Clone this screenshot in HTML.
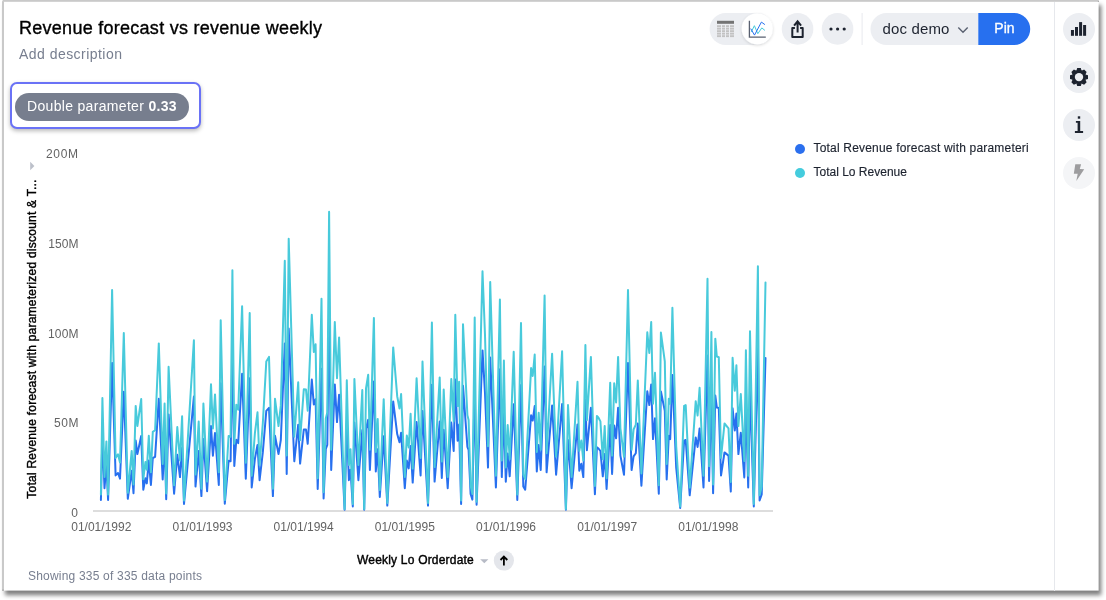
<!DOCTYPE html>
<html lang="en">
<head>
<meta charset="utf-8">
<title>Revenue forecast vs revenue weekly</title>
<style>
*{box-sizing:border-box;margin:0;padding:0}
html,body{width:1106px;height:600px;background:#fff;overflow:hidden}
body{font-family:"Liberation Sans",Arial,sans-serif;color:#1d232f;position:relative}
.card{position:absolute;left:0;top:0;width:1106px;height:600px;background:#fff}
.abs{position:absolute;white-space:nowrap}
#w{position:absolute;left:0;top:0;width:1106px;height:600px;will-change:transform}
.title{left:19px;top:17px;font-size:18px;line-height:22px;color:#000;letter-spacing:.27px;-webkit-text-stroke:.35px #000}
.desc{left:19px;top:45px;font-size:14px;line-height:18px;color:#777e8f;letter-spacing:.46px}
.circ{position:absolute;width:32px;height:32px;border-radius:16px;background:#eceef2}
.sideline{left:1054px;top:2px;width:1px;height:589px;background:#e6e8ec}
.hl{left:10px;top:82px;width:191px;height:47px;border:2px solid #6a72f6;border-radius:7px;box-shadow:0 2px 4px rgba(0,0,0,.28);background:#fff}
.chip{left:15px;top:93px;width:174px;height:28px;border-radius:14px;background:#777e8e;color:#fff;font-size:14px;line-height:26px;padding-left:12px;letter-spacing:.32px}
.chip b{font-weight:700}
.toggle{left:710px;top:13px;width:63px;height:32px;border-radius:16px;background:#eceef2}
.knob{left:741.6px;top:13.2px;width:31.4px;height:31.2px;border-radius:16px;background:#fff;box-shadow:0 1.5px 4px rgba(60,70,90,.26)}
.vdiv{left:861.5px;top:13px;width:1.5px;height:32px;background:#f0f1f4}
.docdemo{left:870.5px;top:13px;width:109px;letter-spacing:.15px;height:32px;font-size:15px;line-height:31px;padding-left:12px;color:#1d232f}
.pin{left:978.3px;top:13px;width:51.9px;height:32px;color:#fff;font-size:14px;line-height:31px;padding-left:16px;-webkit-text-stroke:.3px #fff}
.leg{font-size:12px;line-height:14px;color:#1d232f;left:813.5px;-webkit-text-stroke:.15px #1d232f}
.dot{position:absolute;width:10px;height:10px;border-radius:5px}
.ylab{font-size:12px;line-height:14px;color:#636363;width:42px;text-align:right;left:36px}
.xlab{font-size:12px;line-height:14px;color:#636363;width:70px;text-align:center;top:520px}
.ytitle{left:32px;top:339px;width:0;height:0}
.ytitle span{position:absolute;white-space:nowrap;font-size:12px;line-height:14px;color:#000;transform:translate(-50%,-50%) rotate(-90deg);transform-origin:50% 50%;-webkit-text-stroke:.4px #000;letter-spacing:.235px}
.xtitle{left:357px;top:553px;font-size:12px;line-height:14px;color:#000;-webkit-text-stroke:.4px #000;letter-spacing:.2px}
.foot{left:28px;top:569px;font-size:12px;line-height:14px;color:#777e8f;letter-spacing:.2px}
svg{position:absolute;left:0;top:0;overflow:visible}
</style>
</head>
<body>
<div id="w"><div class="card"></div>
<svg id="frame" width="1106" height="600" viewBox="0 0 1106 600">
<defs>
<filter id="sh" filterUnits="userSpaceOnUse" x="-20" y="-20" width="1150" height="640"><feGaussianBlur in="SourceAlpha" stdDeviation="2.35"/><feOffset dx="2.85" dy="4.5"/><feComponentTransfer><feFuncA type="linear" slope=".5"/></feComponentTransfer><feMerge><feMergeNode/><feMergeNode in="SourceGraphic"/></feMerge></filter>
<filter id="ks" filterUnits="userSpaceOnUse" x="730" y="0" width="60" height="60"><feGaussianBlur in="SourceAlpha" stdDeviation="1.6"/><feOffset dx="0" dy="1"/><feComponentTransfer><feFuncA type="linear" slope=".15"/></feComponentTransfer><feMerge><feMergeNode/><feMergeNode in="SourceGraphic"/></feMerge></filter>
</defs>
<rect x="2" y="0" width="1096.3" height="590.25" fill="#fff" filter="url(#sh)"/>
<rect x="2" y="1.2" width="2" height="589.3" fill="#c9c9c9"/>
<rect x="2.6" y="0" width="1096" height="1.8" fill="#c9c9c9"/>
<rect x="1097.9" y="0.8" width="1" height="1" fill="#9a9a9a"/>
<rect x="2.3" y="589.6" width="1.4" height="1.2" fill="#9a9a9a"/>
<g id="shapes">
<rect x="709.6" y="13" width="63.4" height="32" rx="16" fill="#eceef2"/>
<circle cx="757.3" cy="28.8" r="15.6" fill="#fff" filter="url(#ks)"/>
<circle cx="797.55" cy="28.9" r="15.8" fill="#eceef2"/>
<circle cx="837.55" cy="28.9" r="15.8" fill="#eceef2"/>
<rect x="861.4" y="13" width="1.5" height="32" fill="#f0f1f4"/>
<path d="M886.5 13H978.3V45H886.5A16 16 0 0 1 886.5 13Z" fill="#eceef2"/>
<path d="M978.3 13H1014.2A16 16 0 0 1 1014.2 45H978.3Z" fill="#2770ef"/>
<circle cx="503.9" cy="560.5" r="10.1" fill="#e4e6eb"/>
</g>
</svg>
<div class="abs title">Revenue forecast vs revenue weekly</div>
<div class="abs desc">Add description</div>

<div class="abs hl"></div>
<div class="abs chip">Double parameter <b>0.33</b></div>

<div class="abs docdemo">doc demo</div>
<div class="abs pin">Pin</div>

<div class="abs sideline"></div>
<div class="circ" style="left:1063px;top:13px"></div>
<div class="circ" style="left:1063px;top:61px"></div>
<div class="circ" style="left:1063px;top:109px"></div>
<div class="circ" style="left:1063px;top:157px;background:#f4f5f7"></div>

<div class="dot" style="left:795.4px;top:144px;background:#2b6fee"></div>
<div class="dot" style="left:795.4px;top:168px;background:#44ccdd"></div>
<div class="abs leg" style="top:141px;letter-spacing:.19px">Total Revenue forecast with parameteri</div>
<div class="abs leg" style="top:165px">Total Lo Revenue</div>

<div class="abs ylab" style="top:147px;letter-spacing:0.6px;left:36.5px">200M</div>
<div class="abs ylab" style="top:237px;letter-spacing:0.05px;left:36.45px">150M</div>
<div class="abs ylab" style="top:327px;letter-spacing:0.1px;left:36.5px">100M</div>
<div class="abs ylab" style="top:416px;letter-spacing:0.5px;left:36.9px">50M</div>
<div class="abs ylab" style="top:506px;letter-spacing:0px;left:36px">0</div>
<div class="abs ytitle"><span>Total Revenue forecast with parameterized discount &amp; T...</span></div>

<div class="abs xlab" style="left:66.3px">01/01/1992</div>
<div class="abs xlab" style="left:167.5px">01/01/1993</div>
<div class="abs xlab" style="left:268.65px">01/01/1994</div>
<div class="abs xlab" style="left:369.8px">01/01/1995</div>
<div class="abs xlab" style="left:471px">01/01/1996</div>
<div class="abs xlab" style="left:572.2px">01/01/1997</div>
<div class="abs xlab" style="left:673.35px">01/01/1998</div>
<div class="abs xtitle">Weekly Lo Orderdate</div>
<div class="abs foot">Showing 335 of 335 data points</div>

<svg width="1106" height="600" viewBox="0 0 1106 600">
<!-- table icon -->
<rect x="717" y="20.8" width="17" height="3" fill="#747474"/>
<g fill="#c2c2c2"><rect x="717" y="25.2" width="4" height="1.9"/><rect x="722" y="25.2" width="3" height="1.9"/><rect x="726" y="25.2" width="3" height="1.9"/><rect x="730" y="25.2" width="4" height="1.9"/><rect x="717" y="27.7" width="4" height="1.9"/><rect x="722" y="27.7" width="3" height="1.9"/><rect x="726" y="27.7" width="3" height="1.9"/><rect x="730" y="27.7" width="4" height="1.9"/><rect x="717" y="30.2" width="4" height="1.9"/><rect x="722" y="30.2" width="3" height="1.9"/><rect x="726" y="30.2" width="3" height="1.9"/><rect x="730" y="30.2" width="4" height="1.9"/><rect x="717" y="32.7" width="4" height="1.9"/><rect x="722" y="32.7" width="3" height="1.9"/><rect x="726" y="32.7" width="3" height="1.9"/><rect x="730" y="32.7" width="4" height="1.9"/><rect x="717" y="35.2" width="4" height="1.9"/><rect x="722" y="35.2" width="3" height="1.9"/><rect x="726" y="35.2" width="3" height="1.9"/><rect x="730" y="35.2" width="4" height="1.9"/></g>
<!-- chart icon -->
<path d="M749.4 20.7V37.1H765.8" fill="none" stroke="#596070" stroke-width="1.3"/>
<path d="M751.3 31.9L754.4 25.7L757.8 33.7L761.8 27.9L764.9 30.4" fill="none" stroke="#48cadb" stroke-width="1"/>
<path d="M750.7 28.6L754.5 35.1L761.4 22.1L764.9 24.6" fill="none" stroke="#2770ef" stroke-width="1"/>
<!-- share icon -->
<path d="M794.9 28.1H792.3V37H802.7V28.1H800.1" fill="none" stroke="#1d232f" stroke-width="2" stroke-linejoin="round"/>
<path d="M797.6 32.4V22M794.1 25.7L797.6 21.4L801.1 25.7" fill="none" stroke="#1d232f" stroke-width="2"/>
<!-- more icon -->
<circle cx="831" cy="29" r="1.6" fill="#1d232f"/><circle cx="837.6" cy="29" r="1.6" fill="#1d232f"/><circle cx="844.2" cy="29" r="1.6" fill="#1d232f"/>
<!-- chevron -->
<path d="M958.3 27.6L963 32.2L967.7 27.6" fill="none" stroke="#596070" stroke-width="1.4"/>
<!-- sidebar bar icon -->
<g fill="#1d232f"><rect x="1070.95" y="30" width="3" height="5.8"/><rect x="1075" y="27" width="3" height="8.8"/><rect x="1079.1" y="22.1" width="3" height="13.7"/><rect x="1083.1" y="25" width="3" height="10.8"/></g>
<!-- gear -->
<g transform="translate(1079 77.1)" fill="#1d232f"><path transform="rotate(0)" d="M-2.7 -6.2L-1.8 -9H1.8L2.7 -6.2Z"/><path transform="rotate(45)" d="M-2.7 -6.2L-1.8 -9H1.8L2.7 -6.2Z"/><path transform="rotate(90)" d="M-2.7 -6.2L-1.8 -9H1.8L2.7 -6.2Z"/><path transform="rotate(135)" d="M-2.7 -6.2L-1.8 -9H1.8L2.7 -6.2Z"/><path transform="rotate(180)" d="M-2.7 -6.2L-1.8 -9H1.8L2.7 -6.2Z"/><path transform="rotate(225)" d="M-2.7 -6.2L-1.8 -9H1.8L2.7 -6.2Z"/><path transform="rotate(270)" d="M-2.7 -6.2L-1.8 -9H1.8L2.7 -6.2Z"/><path transform="rotate(315)" d="M-2.7 -6.2L-1.8 -9H1.8L2.7 -6.2Z"/><circle r="7.1"/><circle r="4.2" fill="#eceef2"/></g>
<!-- info icon -->
<g fill="#1d232f"><rect x="1077.8" y="116.3" width="2.4" height="2.4"/><path d="M1075.9 120.9H1080.2V130.9H1083.1V132.9H1074.9V130.9H1077.6V122.8H1075.9Z"/></g>
<!-- bolt -->
<path d="M1075.3 164.2H1081.1L1079.8 169.1L1084.2 169.3L1076.3 181.1L1077.7 173.8L1073.8 173.7Z" fill="#9d9d9f"/>
<!-- y expand triangle -->
<path d="M30.2 161.8L34.4 166L30.2 170.2Z" fill="#bcc0ca"/>
<!-- x-axis dropdown + arrow -->
<path d="M480.2 559.2H488.4L484.3 563.2Z" fill="#b7bbc6"/>
<path d="M503.9 565.4V556.6M500.5 560L503.9 556.5L507.3 560" fill="none" stroke="#000" stroke-width="1.8"/>
<!-- axis line -->
<rect x="93" y="510" width="680" height="2" fill="#dddddd"/>
<!-- series -->
<g fill="none" stroke-width="2" stroke-linejoin="round" stroke-linecap="round">
<path stroke="#2770ef" d="M100.9 500.0L102.4 435.3L104.5 488.2L106.4 464.4L108.1 500.0L112.1 362.9L115.6 475.4L118.0 473.0L120.0 478.6L123.8 391.8L127.8 498.8L131.7 470.7L133.5 493.2L135.7 440.6L137.4 454.1L141.2 436.0L143.3 489.7L145.4 478.2L146.8 483.4L148.8 460.6L150.9 485.0L152.8 458.0L155.1 456.9L158.8 398.7L162.7 479.5L164.6 439.0L166.2 499.2L168.6 414.4L174.1 493.7L177.3 454.7L180.0 477.1L182.1 447.5L184.0 504.0L193.9 396.6L195.5 486.6L198.7 451.1L201.4 496.1L203.4 439.0L207.1 491.3L211.0 426.0L212.9 455.7L215.0 432.9L218.8 485.0L220.7 383.2L224.8 503.7L228.6 460.8L230.6 461.3L232.4 349.7L234.3 466.0L236.3 439.8L238.2 443.1L242.1 373.8L245.8 478.7L249.7 378.3L251.7 487.4L254.9 458.8L257.5 444.9L259.6 480.2L262.8 452.4L266.3 410.8L269.0 407.8L272.9 496.1L275.0 435.8L278.5 454.1L280.8 440.2L284.8 343.4L286.7 473.9L288.7 328.6L294.3 461.3L298.2 424.7L300.1 463.6L303.8 429.5L306.0 429.6L307.7 443.8L311.8 379.5L313.8 404.5L315.6 399.2L317.7 489.0L321.5 368.8L323.6 498.4L325.8 449.0L327.3 445.0L329.1 310.5L331.2 470.0L334.8 384.4L337.0 422.1L339.1 394.7L344.6 509.7L346.8 423.4L348.9 480.2L350.5 469.7L352.8 506.4L354.4 422.6L358.4 480.2L362.3 430.0L364.2 509.7L366.0 428.8L368.2 419.7L369.9 470.0L373.9 381.6L375.8 471.5L377.7 449.3L379.8 496.9L383.7 436.2L387.3 505.6L393.2 401.4L397.2 434.1L399.5 442.3L401.1 432.7L404.8 488.2L406.8 460.4L408.7 468.4L410.6 445.9L412.7 482.6L416.6 422.0L420.6 475.5L422.5 410.9L428.0 505.6L431.9 384.8L434.6 481.6L439.7 421.5L441.8 477.9L443.7 429.7L447.7 488.2L451.3 422.6L453.7 451.0L455.3 379.5L457.6 440.7L459.1 424.4L461.1 504.0L463.0 385.8L467.4 446.9L468.6 450.0L470.6 494.0L472.4 499.6L474.7 381.4L476.6 504.8L482.5 350.4L485.0 393.1L488.0 467.6L490.2 357.5L495.9 487.4L499.9 369.3L501.8 477.1L503.9 410.2L505.8 481.8L507.7 453.4L509.7 476.3L513.7 404.3L517.3 500.0L521.0 385.1L523.3 486.6L525.2 489.7L531.1 415.3L532.7 420.6L534.7 406.1L536.8 471.5L538.7 445.1L540.7 470.0L544.6 366.5L546.6 472.3L552.1 405.6L556.1 474.7L562.1 404.0L565.9 509.7L568.0 440.0L571.6 488.2L577.5 424.4L579.3 470.7L581.3 463.8L583.3 477.1L585.4 399.8L586.9 450.2L590.9 407.8L594.9 494.2L596.9 447.3L598.5 448.5L600.4 451.0L602.8 476.3L604.7 454.1L606.6 489.0L610.2 425.0L612.1 473.9L614.2 425.4L616.1 438.3L618.1 407.8L620.4 455.6L624.0 474.7L628.0 362.9L631.6 470.0L633.6 456.4L635.8 453.2L637.8 423.6L641.4 485.8L647.3 391.3L649.3 405.1L651.2 384.4L653.0 439.1L655.0 418.3L658.8 493.7L660.9 391.5L664.8 410.8L666.7 479.5L668.8 435.8L670.2 439.1L672.4 374.9L676.2 467.6L680.2 507.9L684.1 440.6L685.7 440.0L689.7 495.3L695.7 437.4L697.6 447.0L699.6 428.4L703.5 487.4L707.5 355.4L709.1 481.0L711.4 391.0L713.1 493.2L715.3 395.6L716.8 407.5L718.8 408.0L721.0 475.5L724.5 452.4L728.5 455.6L730.8 491.6L732.6 408.3L734.8 430.4L736.4 413.4L738.4 454.1L740.8 432.7L744.3 477.4L745.9 403.3L748.2 487.4L750.0 390.5L753.8 506.4L757.9 347.0L759.6 500.5L761.7 494.5L765.5 358.0"/>
<path stroke="#48cadb" d="M100.9 494.6L102.4 398.0L104.5 477.0L106.4 441.4L108.1 494.6L112.1 290.0L115.6 457.9L118.0 454.3L120.0 462.6L123.8 333.1L127.8 492.8L131.7 450.9L133.5 484.4L135.7 405.9L137.4 426.0L141.2 399.1L143.3 479.2L145.4 462.0L146.8 469.8L148.8 435.8L150.9 472.2L152.8 431.9L155.1 430.3L158.8 343.4L162.7 464.0L164.6 403.6L166.2 493.4L168.6 366.8L174.1 485.2L177.3 427.0L180.0 460.4L182.1 416.2L184.0 500.6L193.9 340.2L195.5 474.6L198.7 421.6L201.4 488.8L203.4 403.6L207.1 481.6L211.0 384.2L212.9 428.5L215.0 394.4L218.8 472.2L220.7 320.2L224.8 500.1L228.6 436.0L230.6 436.8L232.4 270.2L234.3 443.8L236.3 404.7L238.2 409.7L242.1 306.2L245.8 462.8L249.7 313.0L251.7 475.8L254.9 433.1L257.5 412.3L259.6 465.0L262.8 423.5L266.3 361.4L269.0 356.9L272.9 488.8L275.0 398.8L278.5 426.1L280.8 405.4L284.8 260.8L286.7 455.6L288.7 238.7L294.3 436.8L298.2 382.2L300.1 440.3L303.8 389.3L306.0 389.5L307.7 410.7L311.8 314.8L313.8 352.0L315.6 344.2L317.7 478.2L321.5 298.8L323.6 492.2L325.8 418.5L327.3 412.5L329.1 211.7L331.2 449.8L334.8 322.0L337.0 378.3L339.1 337.4L344.6 509.0L346.8 380.3L348.9 465.0L350.5 449.3L352.8 504.1L354.4 379.0L358.4 465.0L362.3 390.1L364.2 509.0L366.0 388.3L368.2 374.7L369.9 449.8L373.9 317.9L375.8 452.0L377.7 418.9L379.8 490.0L383.7 399.3L387.3 502.9L393.2 347.4L397.2 396.2L399.5 408.5L401.1 394.1L404.8 477.0L406.8 435.5L408.7 447.4L410.6 413.8L412.7 468.6L416.6 378.2L420.6 458.0L422.5 361.6L428.0 502.9L431.9 322.6L434.6 467.1L439.7 377.4L441.8 461.6L443.7 389.6L447.7 477.0L451.3 379.0L453.7 421.4L455.3 314.8L457.6 406.1L459.1 381.7L461.1 500.6L463.0 324.2L467.4 415.3L468.6 420.0L470.6 485.6L472.4 494.0L474.7 317.5L476.6 501.7L482.5 271.3L485.0 335.0L488.0 446.2L490.2 281.9L495.9 475.8L499.9 299.5L501.8 460.4L503.9 360.5L505.8 467.4L507.7 425.0L509.7 459.2L513.7 351.8L517.3 494.6L521.0 323.1L523.3 474.6L525.2 479.2L531.1 368.1L532.7 376.0L534.7 354.5L536.8 452.0L538.7 412.7L540.7 449.8L544.6 295.4L546.6 453.2L552.1 353.7L556.1 456.8L562.1 351.3L565.9 509.0L568.0 405.1L571.6 477.0L577.5 381.7L579.3 450.9L581.3 440.6L583.3 460.4L585.4 345.0L586.9 420.3L590.9 356.9L594.9 485.9L596.9 415.9L598.5 417.7L600.4 421.4L602.8 459.2L604.7 426.0L606.6 478.2L610.2 382.7L612.1 455.6L614.2 383.3L616.1 402.5L618.1 356.9L620.4 428.3L624.0 456.8L628.0 290.0L631.6 449.8L633.6 429.5L635.8 424.7L637.8 380.6L641.4 473.4L647.3 332.3L649.3 353.0L651.2 322.0L653.0 403.7L655.0 372.7L658.8 485.2L660.9 332.6L664.8 361.4L666.7 464.0L668.8 398.8L670.2 403.7L672.4 307.8L676.2 446.2L680.2 506.4L684.1 405.9L685.7 405.1L689.7 487.6L695.7 401.2L697.6 415.5L699.6 387.7L703.5 475.8L707.5 278.8L709.1 466.2L711.4 331.9L713.1 484.4L715.3 338.7L716.8 356.5L718.8 357.2L721.0 458.0L724.5 423.5L728.5 428.3L730.8 482.0L732.6 357.7L734.8 390.7L736.4 365.3L738.4 426.1L740.8 394.1L744.3 460.9L745.9 350.2L748.2 475.8L750.0 331.2L753.8 504.1L757.9 266.2L759.6 495.3L761.7 486.4L765.5 282.6"/>
</g>
</svg>
</div>
</body>
</html>
